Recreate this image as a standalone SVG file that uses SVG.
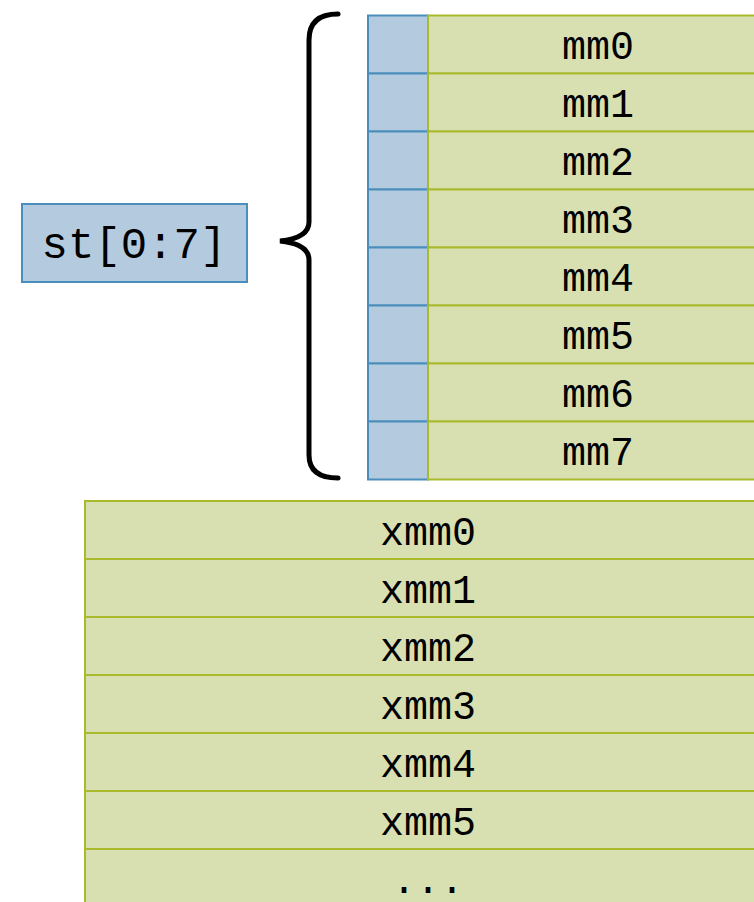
<svg xmlns="http://www.w3.org/2000/svg" width="754" height="902" viewBox="0 0 754 902">
<style>
.b{fill:#b4cade;stroke:#4a8fbb;stroke-width:2}
.g{fill:#d8e0b1;stroke:#a9ba2c;stroke-width:2}
.t{font-family:"Liberation Mono","DejaVu Sans Mono",monospace;font-size:40px;fill:#000;text-anchor:middle}
.s{font-size:44px}
</style>
<rect width="754" height="902" fill="#fff"/>
<g id="st">
<rect class="b" x="22" y="204" width="225" height="78"/>
<text class="t s" x="134" y="258">st[0:7]</text>
</g>
<g id="connectors">
<path d="M338,14 Q309,14 309,40 V222 Q309,238 280,241 Q309,244 309,260 V455 Q309,478 338,478" fill="none" stroke="#000" stroke-width="5" stroke-linecap="round"/>
</g>
<g id="mm0"><rect class="b" x="368" y="15.5" width="60" height="58"/><rect class="g" x="428" y="15.5" width="342" height="58"/><text class="t" x="598" y="59">mm0</text></g>
<g id="mm1"><rect class="b" x="368" y="73.5" width="60" height="58"/><rect class="g" x="428" y="73.5" width="342" height="58"/><text class="t" x="598" y="117">mm1</text></g>
<g id="mm2"><rect class="b" x="368" y="131.5" width="60" height="58"/><rect class="g" x="428" y="131.5" width="342" height="58"/><text class="t" x="598" y="175">mm2</text></g>
<g id="mm3"><rect class="b" x="368" y="189.5" width="60" height="58"/><rect class="g" x="428" y="189.5" width="342" height="58"/><text class="t" x="598" y="233">mm3</text></g>
<g id="mm4"><rect class="b" x="368" y="247.5" width="60" height="58"/><rect class="g" x="428" y="247.5" width="342" height="58"/><text class="t" x="598" y="291">mm4</text></g>
<g id="mm5"><rect class="b" x="368" y="305.5" width="60" height="58"/><rect class="g" x="428" y="305.5" width="342" height="58"/><text class="t" x="598" y="349">mm5</text></g>
<g id="mm6"><rect class="b" x="368" y="363.5" width="60" height="58"/><rect class="g" x="428" y="363.5" width="342" height="58"/><text class="t" x="598" y="407">mm6</text></g>
<g id="mm7"><rect class="b" x="368" y="421.5" width="60" height="58"/><rect class="g" x="428" y="421.5" width="342" height="58"/><text class="t" x="598" y="465">mm7</text></g>
<g id="xmm0"><rect class="g" x="85" y="501" width="686" height="58"/><text class="t" x="428" y="545">xmm0</text></g>
<g id="xmm1"><rect class="g" x="85" y="559" width="686" height="58"/><text class="t" x="428" y="603">xmm1</text></g>
<g id="xmm2"><rect class="g" x="85" y="617" width="686" height="58"/><text class="t" x="428" y="661">xmm2</text></g>
<g id="xmm3"><rect class="g" x="85" y="675" width="686" height="58"/><text class="t" x="428" y="719">xmm3</text></g>
<g id="xmm4"><rect class="g" x="85" y="733" width="686" height="58"/><text class="t" x="428" y="777">xmm4</text></g>
<g id="xmm5"><rect class="g" x="85" y="791" width="686" height="58"/><text class="t" x="428" y="835">xmm5</text></g>
<g id="xmmN"><rect class="g" x="85" y="849" width="686" height="70"/><text class="t" x="428" y="893">...</text></g>
</svg>
